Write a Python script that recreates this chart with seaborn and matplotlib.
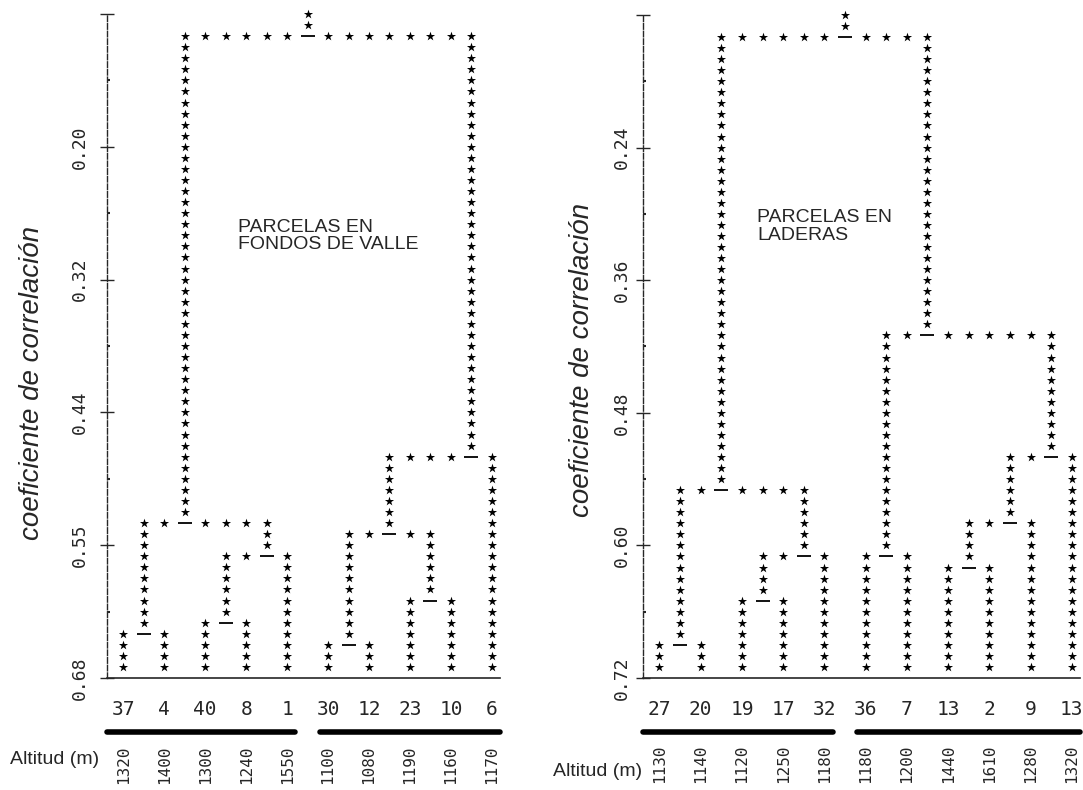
import numpy as np
import pandas as pd
import matplotlib.pyplot as plt
import seaborn as sns
from matplotlib.transforms import blended_transform_factory

# ---- left panel: parcelas en fondos de valle
valle_leaves = ["37", "4", "40", "8", "1", "30", "12", "23", "10", "6"]
valle_alt = ["1320", "1400", "1300", "1240", "1550", "1100", "1080", "1190", "1160", "1170"]
# (left child, right child, correlation level); new nodes get ids after the leaves
valle_merges = [(0, 1, 0.64), (2, 3, 0.63), (11, 4, 0.57), (10, 12, 0.54),
                (5, 6, 0.65), (7, 8, 0.61), (14, 15, 0.55), (16, 9, 0.48),
                (13, 17, 0.10)]
valle_ticks = [0.08, 0.20, 0.32, 0.44, 0.56, 0.68]
valle_ticklabels = ["", "0.20", "0.32", "0.44", "0.55", "0.68"]
valle_groups = [(0, 4), (5, 9)]

# ---- right panel: parcelas en laderas
ladera_leaves = ["27", "20", "19", "17", "32", "36", "7", "13", "2", "9", "13"]
ladera_alt = ["1130", "1140", "1120", "1250", "1180", "1180", "1200", "1440", "1610", "1280", "1320"]
ladera_merges = [(0, 1, 0.69), (2, 3, 0.65), (12, 4, 0.61), (11, 13, 0.55),
                 (5, 6, 0.61), (7, 8, 0.62), (16, 9, 0.58), (17, 10, 0.52),
                 (15, 18, 0.41), (14, 19, 0.14)]
ladera_ticks = [0.12, 0.24, 0.36, 0.48, 0.60, 0.72]
ladera_ticklabels = ["", "0.24", "0.36", "0.48", "0.60", "0.72"]
ladera_groups = [(0, 4), (5, 10)]

sns.set_style("white")
plt.rcParams["font.family"] = ["Liberation Sans", "DejaVu Sans"]
MONO = "DejaVu Sans Mono"
W, H = 1083, 790
STEP = 0.01


def tree_marks(n, merges, top, bottom):
    # lay the tree out like an old line-printer dendrogram
    col = {i: 2 * i for i in range(n)}
    first = dict(col)
    level = {i: None for i in range(n)}
    stars, dashes = [], []
    for k, (a, b, h) in enumerate(merges):
        node = n + k
        c = first[b] - 1
        col[node], first[node], level[node] = c, first[a], h
        for ch in (a, b):
            stop = bottom - 0.003 if ch < n else level[ch] - 0.005
            for r in np.arange(h, stop, STEP):
                stars.append((col[ch], round(r, 3)))
        for cc in range(col[a] + 1, col[b]):
            (dashes if cc == c else stars).append((cc, h))
    root = n + len(merges) - 1
    for r in np.arange(top, level[root] - 0.005, STEP):
        stars.append((col[root], round(r, 3)))
    return (pd.DataFrame(stars, columns=["col", "coef"]),
            pd.DataFrame(dashes, columns=["col", "coef"]))


def draw_panel(ax, leaves, alt, merges, ticks, ticklabels, groups, xmax, ypad, note, note_xy):
    n = len(leaves)
    top, bottom = ticks[0], ticks[-1]
    stars, dashes = tree_marks(n, merges, top, bottom)
    sns.scatterplot(data=stars, x="col", y="coef", marker="*", s=48, color="black",
                    linewidth=0, ax=ax, legend=False, clip_on=False)
    sns.scatterplot(data=dashes, x="col", y="coef", marker="_", s=110, color="black",
                    linewidth=1.3, ax=ax, legend=False, clip_on=False)

    ax.set_xlim(-0.8, xmax)
    ax.set_ylim(bottom, top)
    for s in ("top", "right"):
        ax.spines[s].set_visible(False)
    ax.spines["left"].set_linestyle((0, (4, 1.5)))
    ax.spines["left"].set_linewidth(1.0)
    ax.spines["bottom"].set_linewidth(1.2)

    ax.set_yticks(ticks)
    ax.set_yticklabels(ticklabels, rotation=90, va="center", family=MONO, fontsize=13)
    ax.set_yticks([(ticks[i] + ticks[i + 1]) / 2 for i in range(len(ticks) - 1)], minor=True)
    ax.tick_params(axis="y", which="major", direction="inout", length=10, width=1,
                   left=True, pad=ypad)
    ax.tick_params(axis="y", which="minor", direction="in", length=2, width=1.5, left=True)

    ax.set_xticks([2 * i for i in range(n)])
    ax.set_xticklabels(leaves, family=MONO, fontsize=14)
    ax.tick_params(axis="x", length=0, pad=16)
    ax.set_xlabel("")
    ax.set_ylabel("coeficiente de correlación", fontsize=20, style="italic")

    tr = blended_transform_factory(ax.transData, ax.transAxes)
    for g, (i0, i1) in enumerate(groups):
        x0 = -0.8 if g == 0 else 2 * i0 - 0.4
        ax.plot([x0, 2 * i1 + 0.4], [-0.081, -0.081], transform=tr, color="black",
                lw=4, solid_capstyle="round", clip_on=False)
    for i, a in enumerate(alt):
        ax.text(2 * i, -0.101, a, transform=tr, rotation=90, ha="center", va="top",
                family=MONO, fontsize=11.5, clip_on=False)
    ax.text(note_xy[0], note_xy[1], note, transform=ax.transAxes, fontsize=14,
            ha="left", va="top", linespacing=1.05)


fig = plt.figure(figsize=(W / 100, H / 100), dpi=100)
ax1 = fig.add_axes([107 / W, 1 - 678 / H, (500 - 107) / W, (678 - 14) / H])
ax2 = fig.add_axes([643 / W, 1 - 678 / H, (1080 - 643) / W, (678 - 15) / H])

draw_panel(ax1, valle_leaves, valle_alt, valle_merges, valle_ticks, valle_ticklabels,
           valle_groups, 18.4, 8, "PARCELAS EN\nFONDOS DE VALLE", (0.333, 0.692))
draw_panel(ax2, ladera_leaves, ladera_alt, ladera_merges, ladera_ticks, ladera_ticklabels,
           ladera_groups, 20.4, 4, "PARCELAS EN\nLADERAS", (0.261, 0.707))

ax1.yaxis.set_label_coords(-0.158, 0.444)
ax2.yaxis.set_label_coords(-0.11, 0.479)

fig.text(10 / W, 1 - 760 / H, "Altitud (m)", fontsize=14, ha="left", va="center")
fig.text(553 / W, 1 - 771 / H, "Altitud (m)", fontsize=14, ha="left", va="center")

fig.savefig("out.png", dpi=100)
